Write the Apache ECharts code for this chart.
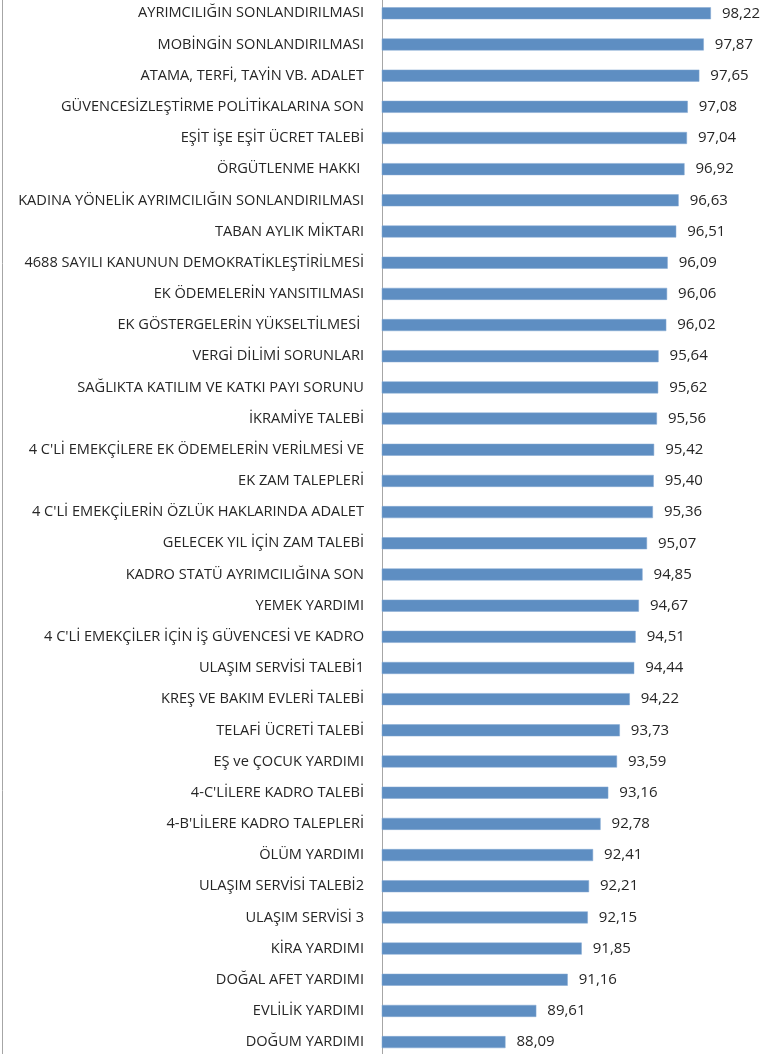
<!DOCTYPE html>
<html>
<head>
<meta charset="utf-8">
<script src="https://cdn.jsdelivr.net/npm/echarts@6/dist/echarts.min.js"></script>
<style>
  html, body { margin: 0; padding: 0; background: #fff; }
  #chart { width: 766px; height: 1054px; }
</style>
</head>
<body>
<div id="chart"></div>
<script>
// kategoriler (yukarıdan aşağıya)
const categories = [
  'AYRIMCILIĞIN SONLANDIRILMASI',
  'MOBİNGİN SONLANDIRILMASI',
  'ATAMA, TERFİ, TAYİN VB. ADALET',
  'GÜVENCESİZLEŞTİRME POLİTİKALARINA SON',
  'EŞİT İŞE EŞİT ÜCRET TALEBİ',
  'ÖRGÜTLENME HAKKI ',
  'KADINA YÖNELİK AYRIMCILIĞIN SONLANDIRILMASI',
  'TABAN AYLIK MİKTARI',
  '4688 SAYILI KANUNUN DEMOKRATİKLEŞTİRİLMESİ',
  'EK ÖDEMELERİN YANSITILMASI',
  'EK GÖSTERGELERİN YÜKSELTİLMESİ ',
  'VERGİ DİLİMİ SORUNLARI',
  'SAĞLIKTA KATILIM VE KATKI PAYI SORUNU',
  'İKRAMİYE TALEBİ',
  '4 C\'Lİ EMEKÇİLERE EK ÖDEMELERİN VERİLMESİ VE',
  'EK ZAM TALEPLERİ',
  '4 C\'Lİ EMEKÇİLERİN ÖZLÜK HAKLARINDA ADALET',
  'GELECEK YIL İÇİN ZAM TALEBİ',
  'KADRO STATÜ AYRIMCILIĞINA SON',
  'YEMEK YARDIMI',
  '4 C\'Lİ EMEKÇİLER İÇİN İŞ GÜVENCESİ VE KADRO',
  'ULAŞIM SERVİSİ TALEBİ1',
  'KREŞ VE BAKIM EVLERİ TALEBİ',
  'TELAFİ ÜCRETİ TALEBİ',
  'EŞ ve ÇOCUK YARDIMI',
  '4-C\'LİLERE KADRO TALEBİ',
  '4-B\'LİLERE KADRO TALEPLERİ',
  'ÖLÜM YARDIMI',
  'ULAŞIM SERVİSİ TALEBİ2',
  'ULAŞIM SERVİSİ 3',
  'KİRA YARDIMI',
  'DOĞAL AFET YARDIMI',
  'EVLİLİK YARDIMI',
  'DOĞUM YARDIMI'
]

// değerler
const values = [
  98.22, 97.87, 97.65, 97.08, 97.04, 96.92, 96.63, 96.51, 96.09, 96.06,
  96.02, 95.64, 95.62, 95.56, 95.42, 95.40, 95.36, 95.07, 94.85, 94.67,
  94.51, 94.44, 94.22, 93.73, 93.59, 93.16, 92.78, 92.41, 92.21, 92.15,
  91.85, 91.16, 89.61, 88.09
]

const chart = echarts.init(document.getElementById('chart'))

const option = {
  animation: false,
  grid: {
    left: 382,
    width: 365,
    top: -2.3,
    height: 1060,
    outerBoundsMode: 'none'
  },
  xAxis: {
    type: 'value',
    min: 82,
    max: 100,
    axisLine: { show: false },
    axisTick: { show: false },
    axisLabel: { show: false },
    splitLine: { show: false }
  },
  yAxis: {
    type: 'category',
    inverse: true,
    data: categories,
    axisLine: { show: true, lineStyle: { color: '#a6a6a6', width: 1 } },
    axisTick: { show: false },
    axisLabel: {
      margin: 18,
      fontFamily: 'Open Sans',
      fontSize: 14.6,
      color: '#262626'
    }
  },
  series: [
    {
      type: 'bar',
      data: values,
      barWidth: 12,
      itemStyle: {
        color: '#5e8ec2',
        borderColor: '#84a9d3',
        borderWidth: 0.5
      },
      label: {
        show: true,
        position: 'right',
        distance: 11,
        fontFamily: 'Open Sans',
        fontSize: 15,
        color: '#262626',
        formatter: function (p) {
          return p.value.toFixed(2).replace('.', ',')
        }
      }
    }
  ],
  graphic: [
    {
      type: 'line',
      shape: { x1: 2.5, y1: 0, x2: 2.5, y2: 1054 },
      style: { stroke: '#a6a6a6', lineWidth: 1 }
    }
  ]
}

chart.setOption(option)
</script>
</body>
</html>
